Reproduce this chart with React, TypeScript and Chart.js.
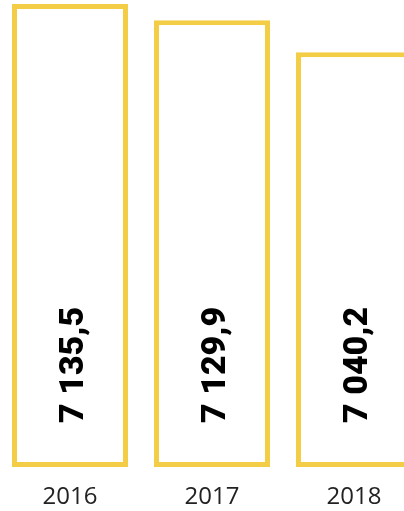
import React, { useEffect, useRef } from "react";
import { Chart, registerables } from "chart.js";

Chart.register(...registerables);

const years = ["2016", "2017", "2018"];
const values = [7135.5, 7129.9, 7040.2];
// relative bar heights as drawn in the picture (tallest = 100)
const barHeights = [100, 96.5, 89.6];

function formatValue(v: number): string {
  const [intPart, dec] = v.toFixed(1).split(".");
  const withSpaces = intPart.replace(/\B(?=(\d{3})+(?!\d))/g, " ");
  return withSpaces + "," + dec;
}

const valueLabels = {
  id: "valueLabels",
  afterDatasetsDraw(chart: any) {
    const ctx = chart.ctx;
    const meta = chart.getDatasetMeta(0);
    meta.data.forEach((bar: any, i: number) => {
      ctx.save();
      ctx.translate(bar.x, bar.base - 44);
      ctx.rotate(-Math.PI / 2);
      ctx.font = "900 34px Roboto";
      ctx.fillStyle = "#000000";
      ctx.textAlign = "left";
      ctx.textBaseline = "alphabetic";
      ctx.fillText(formatValue(values[i]), 0, 13);
      ctx.restore();
    });
  },
};

export default function App() {
  const ref = useRef<HTMLCanvasElement | null>(null);
  useEffect(() => {
    if (!ref.current) return;
    const chart = new Chart(ref.current, {
      type: "bar",
      data: {
        labels: years,
        datasets: [
          {
            data: barHeights,
            backgroundColor: "#ffffff",
            borderColor: "#F3CD45",
            borderWidth: 5,
            borderSkipped: false,
            barPercentage: 1,
            categoryPercentage: 0.817,
          },
        ],
      },
      options: {
        responsive: false,
        animation: false,
        layout: { padding: { top: 4, bottom: 1.6, left: 0, right: 0 } },
        plugins: { legend: { display: false }, tooltip: { enabled: false } },
        scales: {
          y: { display: false, min: 0, max: 100 },
          x: {
            grid: { display: false, drawTicks: false },
            border: { display: false },
            afterFit: (scale: any) => {
              scale.height = 42.4;
            },
            ticks: {
              padding: 16,
              color: "#222222",
              font: { family: "'Open Sans'", size: 24, weight: "normal" },
              maxRotation: 0,
            },
          },
        },
      },
      plugins: [valueLabels],
    });
    return () => chart.destroy();
  }, []);
  return (
    <div style={{ position: "fixed", left: 0, top: 0, width: 404, height: 511, overflow: "hidden", background: "#fff" }}>
      <div style={{ position: "absolute", left: -1, top: 0, width: 426, height: 511 }}>
        <canvas ref={ref} width={426} height={511} style={{ display: "block" }} />
      </div>
    </div>
  );
}
